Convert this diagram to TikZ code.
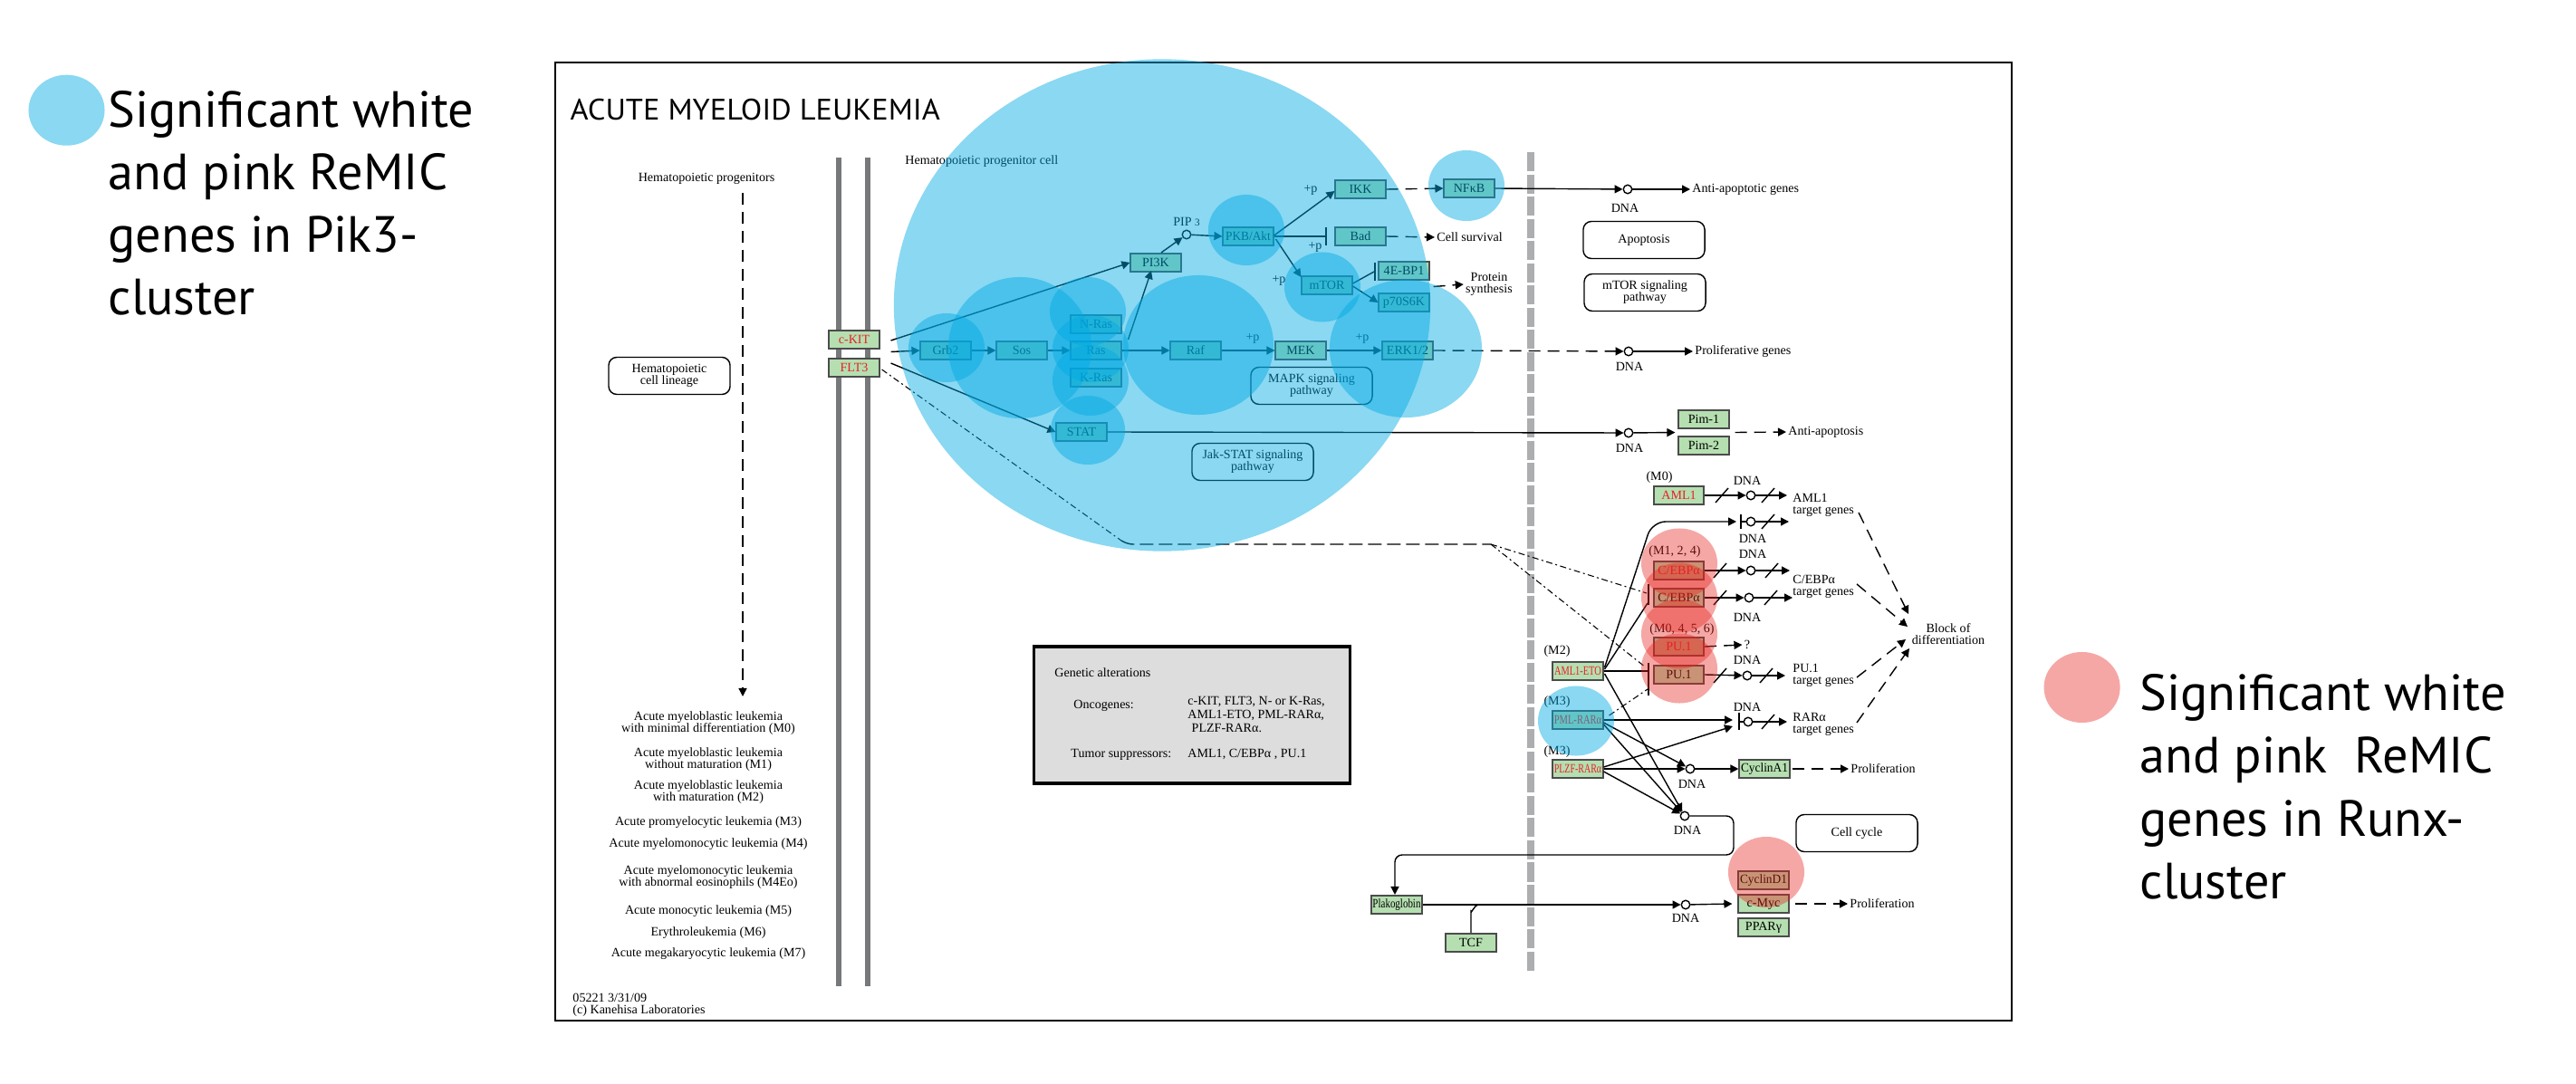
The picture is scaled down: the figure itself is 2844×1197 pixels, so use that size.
\documentclass[tikz,border=0pt]{standalone}
\usepackage{fontspec}
\usepackage{graphicx}
\setmainfont{Liberation Serif}
\newfontfamily\legfont{PT Sans}
\usetikzlibrary{arrows.meta,calc}
\definecolor{kgreen}{RGB}{181,223,176}
\definecolor{kred}{RGB}{232,32,40}
\definecolor{blueov}{RGB}{0,170,228}
\definecolor{pinkov}{RGB}{232,35,30}
\definecolor{membr}{RGB}{118,120,122}
\definecolor{nucl}{RGB}{172,174,176}
\definecolor{galt}{RGB}{221,221,221}
\newcommand\kf{\fontsize{4}{3.7}\selectfont}
\newcommand\sqz[2]{\scalebox{#1}[1]{#2}}
\newcommand\slsh[1]{\draw[ln] ($(#1)+(-7,8)$) -- ($(#1)+(7,-8)$);}
\newcommand\bov[4]{\fill[blueov,opacity=0.46] (#1,#2) ellipse [x radius=#3cm, y radius=#4cm];}
\newcommand\pov[4]{\fill[pinkov,opacity=0.4] (#1,#2) ellipse [x radius=#3cm, y radius=#4cm];}
\begin{document}
\begin{tikzpicture}[x=0.01cm,y=-0.01cm,
 kt/.style={inner sep=0.5pt, font=\kf},
 gene/.style={draw=black!70, fill=kgreen, line width=0.45pt, minimum width=0.555cm, minimum height=0.205cm, inner sep=0pt, font=\kf},
 rg/.style={gene, text=kred},
 pw/.style={draw, rounded corners=0.09cm, line width=0.4pt, minimum width=1.34cm, minimum height=0.41cm, align=center, inner sep=0pt, font=\kf},
 dnac/.style={circle, draw, fill=white, minimum size=0.095cm, inner sep=0pt, line width=0.4pt},
 ln/.style={line width=0.4pt},
 ar/.style={ln, -{Triangle[length=0.09cm,width=0.09cm]}},
 dar/.style={ar, dash pattern=on 0.13cm off 0.08cm},
 dl/.style={ln, dash pattern=on 0.15cm off 0.06cm},
 fd/.style={line width=0.3pt, dash pattern=on 0.07cm off 0.035cm on 0.02cm off 0.035cm},
 leg/.style={anchor=base west, inner sep=0pt, font=\legfont\fontsize{16}{19.6}\selectfont},
]
\useasboundingbox (0,0) rectangle (2844,1197);
\fill[white] (0,0) rectangle (2844,1197);

% frame and title
\draw[line width=0.6pt] (613,69) rectangle (2221,1127);
\node[anchor=base west, inner sep=0pt, font=\legfont\fontsize{9.3}{10}\selectfont] (title) at (629,133) {\sqz{1.05}{ACUTE MYELOID LEUKEMIA}};

% membranes
\draw[membr, line width=1.6pt] (926,174) -- (926,1089);
\draw[membr, line width=1.6pt] (958,174) -- (958,1089);
\draw[nucl, line width=2.3pt, dash pattern=on 0.21cm off 0.035cm] (1690,168) -- (1690,1075);

% left column
\node[kt] (hprog) at (780,197) {Hematopoietic progenitors};
\coordinate (hpa) at (820,213);
\coordinate (hpb) at (820,769);
\draw[dar] (hpa) -- (hpb);
\node[pw] (hcl) at (739,415) {Hematopoietic\\cell lineage};
\node[kt, align=center] (m0) at (782,798.5) {Acute myeloblastic leukemia\\with minimal differentiation (M0)};
\node[kt, align=center] (m1) at (782,838.5) {Acute myeloblastic leukemia\\without maturation (M1)};
\node[kt, align=center] (m2) at (782,874.5) {Acute myeloblastic leukemia\\with maturation (M2)};
\node[kt] (m3) at (782,908) {Acute promyelocytic leukemia (M3)};
\node[kt] (m4) at (782,932) {Acute myelomonocytic leukemia (M4)};
\node[kt, align=center] (m4e) at (782,968.5) {Acute myelomonocytic leukemia\\with abnormal eosinophils (M4Eo)};
\node[kt] (m5) at (782,1006) {Acute monocytic leukemia (M5)};
\node[kt] (m6) at (782,1030) {Erythroleukemia (M6)};
\node[kt] (m7) at (782,1053) {Acute megakaryocytic leukemia (M7)};
\node[kt, anchor=west, align=left] (foot) at (630,1109.5) {05221 3/31/09\\(c) Kanehisa Laboratories};

% genetic alterations
\node[draw, line width=0.9pt, fill=galt, minimum width=3.48cm, minimum height=1.51cm, inner sep=0pt] (galtbox) at (1316,789.5) {};
\node[kt, anchor=west] (ga) at (1162,743) {Genetic alterations};
\node[kt, anchor=west] (onc) at (1183,779) {Oncogenes:};
\node[anchor=west, align=left, inner sep=0.5pt, font=\fontsize{4}{2.9}\selectfont] (oncl) at (1309,789) {c-KIT, FLT3, N- or K-Ras,\\AML1-ETO, PML-RARα,\\\hspace{1.2pt}PLZF-RARα.};
\node[kt, anchor=west] (tsup) at (1180,833) {Tumor suppressors:};
\node[kt, anchor=west] (tsl) at (1309,833) {AML1, C/EBPα , PU.1};

% receptor and cytoplasm
\node[kt, anchor=west] (hpc) at (997,178) {Hematopoietic progenitor cell};
\node[rg] (ckit) at (943,375) {c-KIT};
\node[rg] (flt3) at (943,406) {FLT3};
\node[gene] (grb2) at (1044,387) {Grb2};
\node[gene] (sos) at (1128,387) {Sos};
\node[gene] (nras) at (1210,358) {N-Ras};
\node[gene] (ras) at (1210,387) {Ras};
\node[gene] (kras) at (1210,417) {K-Ras};
\node[gene] (raf) at (1320,387) {Raf};
\node[gene] (mek) at (1436,387) {MEK};
\node[gene] (erk) at (1554,387) {ERK1/2};
\node[gene] (pik) at (1276,290) {PI3K};
\node[gene] (pkb) at (1378,261) {\sqz{0.95}{PKB/Akt}};
\node[gene] (ikk) at (1502,209) {IKK};
\node[gene] (nfkb) at (1622,208) {NFκB};
\node[gene] (bad) at (1502,261) {Bad};
\node[gene] (mtor) at (1465,315) {mTOR};
\node[gene] (ebp) at (1550,299) {4E-BP1};
\node[gene] (p70) at (1550,334) {p70S6K};
\node[gene] (stat) at (1194,477) {STAT};
\node[dnac] (pip) at (1310,259) {};
\node[kt] (piplab) at (1310,245) {PIP {\fontsize{3.2}{3}\selectfont 3}};
\node[pw] (mapk) at (1448,426) {MAPK signaling\\pathway};
\node[pw] (jak) at (1383,510) {Jak-STAT signaling\\pathway};
\node[kt] (p1) at (1447,210) {+p};
\node[kt] (p2) at (1452,273) {+p};
\node[kt] (p3) at (1412,310) {+p};
\node[kt] (p4) at (1383,374) {+p};
\node[kt] (p5) at (1504,374) {+p};
\node[kt, anchor=west] (cs) at (1584,262) {Cell survival};
\node[kt, align=center] (ps) at (1644,314) {Protein\\synthesis};

\coordinate (kA) at ($(ckit.east)+(12,1)$);
\coordinate (kB) at ($(ckit.east)!0.5!(flt3.east)+(12,-2)$);
\coordinate (kC) at ($(flt3.east)+(12,-5)$);
\draw[ar] (kA) -- (pik.west);
\draw[ar] (kB) -- (grb2.west);
\draw[ar] (kC) -- (stat.west);
\draw[ar] (grb2) -- (sos);
\draw[ar] (sos) -- (ras);
\draw[ar] (ras) -- (raf);
\draw[ar] (raf) -- (mek);
\draw[ar] (mek) -- (erk);
\draw[ar] ($(ras.north east)+(7,-1)$) -- ($(pik.south)+(-5,-2)$);
\draw[ar] ($(pik.north)+(6,0)$) -- (pip);
\draw[ar] (pip) -- (pkb.west);
\draw[ar] ($(pkb.east)+(0,-1)$) -- ($(ikk.west)+(0,2)$);
\draw[ln] (pkb.east) -- (1464,261);
\draw[ln] (1464,251) -- (1464,271);
\draw[ar] ($(pkb.east)+(2,3)$) -- ($(mtor.north west)+(0,2)$);
\draw[ln] ($(mtor.east)+(0,-2)$) -- (1517,300);
\draw[ln] (1518,290) -- (1518,310);
\draw[ar] ($(mtor.east)+(0,1)$) -- (p70.west);
\draw[dar] (ikk.east) -- (nfkb.west);
\draw[dar] (bad.east) -- (cs.west);
\draw[dar] ($(ebp.south east)!0.5!(p70.north east)+(4,0)$) -- (ps.west);

% FLT3 dashed route
\draw[fd] ($(flt3.east)+(2,2)$) -- (1238,597);
\draw[dl, rounded corners=0.05cm] (1238,597) -- (1246,601) -- (1646,601);
\coordinate (fsplit) at (1646,601);

% nucleus: top rows
\node[dnac] (dn1) at (1797,209) {};
\node[kt] (dl1) at (1794,230) {DNA};
\node[kt, anchor=west] (apg) at (1866,209) {Anti-apoptotic genes};
\draw[ar] (nfkb.east) -- (dn1);
\draw[ar] (dn1) -- (apg.west);
\node[pw] (apop) at (1815,265) {Apoptosis};
\node[pw] (mtorp) at (1816,323) {mTOR signaling\\pathway};
\node[dnac] (dn2) at (1798,388) {};
\node[kt] (dl2) at (1799,405) {DNA};
\node[kt, anchor=west] (prg) at (1869,388) {Proliferative genes};
\draw[dar] (erk.east) -- (dn2);
\draw[ar] (dn2) -- (prg.west);
\node[dnac] (dn3) at (1798,478) {};
\node[kt] (dl3) at (1799,495) {DNA};
\node[gene] (pim1) at (1881,463) {Pim-1};
\node[gene] (pim2) at (1881,492) {Pim-2};
\node[kt, anchor=west] (aap) at (1972,477) {Anti-apoptosis};
\draw[ar] (stat.east) -- (dn3);
\draw[ar] (dn3) -- ($(pim1.south west)!0.5!(pim2.north west)+(-3,0)$);
\draw[dar] ($(pim1.south east)!0.5!(pim2.north east)+(6,0)$) -- (aap.west);

% Runx area
\node[kt] (lm0) at (1832,527) {(M0)};
\node[rg] (aml1) at (1853.5,547) {AML1};
\node[kt] (lm124) at (1849,609) {(M1, 2, 4)};
\node[rg] (cebpa) at (1853.5,630) {C/EBPα};
\node[gene] (cebpb) at (1853.5,660) {C/EBPα};
\node[kt] (lm456) at (1857,695) {(M0, 4, 5, 6)};
\node[rg] (pua) at (1853.5,714) {PU.1};
\node[gene] (pub) at (1853.5,745) {PU.1};
\node[kt] (lm2) at (1719,719) {(M2)};
\node[rg] (amleto) at (1742,741) {\sqz{0.74}{AML1-ETO}};
\node[kt] (lm3a) at (1719,775) {(M3)};
\node[rg] (pml) at (1742,795) {\sqz{0.75}{PML-RARα}};
\node[kt] (lm3b) at (1719,830) {(M3)};
\node[rg] (plzf) at (1742,849) {\sqz{0.71}{PLZF-RARα}};

\node[dnac] (dn4) at (1933,547) {};
\node[kt] (dl4) at (1929,531) {DNA};
\node[dnac] (dn5) at (1933,576) {};
\node[kt] (dl5) at (1935,595) {DNA};
\node[dnac] (dn6) at (1933,630) {};
\node[kt] (dl6) at (1935,612) {DNA};
\node[dnac] (dn7) at (1931,660) {};
\node[kt] (dl7) at (1929,682) {DNA};
\node[kt] (qm) at (1929,712) {?};
\node[dnac] (dn8) at (1929,746) {};
\node[kt] (dl8) at (1929,729) {DNA};
\node[dnac] (dn9) at (1930,797) {};
\node[kt] (dl9) at (1929,781) {DNA};

\node[kt, anchor=west, align=left] (tg1) at (1977,558) {AML1\\target genes};
\node[kt, anchor=west, align=left] (tg2) at (1977,648) {C/EBPα\\target genes};
\node[kt, anchor=west, align=left] (tg3) at (1977,746) {PU.1\\target genes};
\node[kt, anchor=west, align=left] (tg4) at (1977,800) {RARα\\target genes};
\node[kt, align=center] (bod) at (2151,700) {Block of\\differentiation};

\coordinate (t1) at (1973,547);
\coordinate (t2) at (1975,576);
\coordinate (t3) at (1976,630);
\coordinate (t4) at (1979,660);
\coordinate (t5) at (1971,746);
\coordinate (t6) at (1973,797);
\draw[ar] (aml1.east) -- (dn4); \draw[ar] (dn4) -- (t1);
\slsh{1901,547} \slsh{1952,547}
\draw[ar, rounded corners=0.15cm] ($(amleto.east)+(1,-4)$) -- (1824,576) -- (1917,576);
\draw[ln] (1922,568) -- (1922,584);
\draw[ln] (1922,576) -- (dn5); \draw[ar] (dn5) -- (t2);
\slsh{1952,576}
\draw[ar] (cebpa.east) -- (dn6); \draw[ar] (dn6) -- (t3);
\slsh{1899,630} \slsh{1956,630}
\draw[ar] (cebpb.east) -- (dn7); \draw[ar] (dn7) -- (t4);
\slsh{1899,660} \slsh{1955,660}
\draw[dar] (pua.east) -- (qm.west);
\draw[ar] (pub.east) -- (dn8); \draw[ar] (dn8) -- (t5);
\slsh{1899,746} \slsh{1950,746}
\draw[ln] (1920,787) -- (1920,806);
\draw[ar] (pml.east) -- (1913,795);
\draw[ar] ($(plzf.east)+(0,-2)$) -- (1913,802);
\draw[ln] (1920,797) -- (dn9); \draw[ar] (dn9) -- (t6);
\slsh{1952,797}

% inhibition bars on C/EBPa and PU.1
\draw[ln] (1820,645) -- (1820,668);
\draw[ln] (1820,732) -- (1820,768);
\draw[fd] (fsplit) -- (1818,655);
\draw[fd] (fsplit) -- (1817,737);
\draw[ln] ($(amleto.east)+(1,-2)$) -- (1819,666);
\draw[ln] (amleto.east) -- (1819,741);
\draw[fd] ($(pml.east)+(6,-5)$) -- (1819,761);

% block of differentiation
\draw[dar] (2052,566) -- (2107,678);
\draw[dar] (2050,645) -- (2106,692);
\draw[dar] (2050,748) -- (2104,706);
\draw[dar] (2050,798) -- (2108,716);

% CyclinA1 row
\node[dnac] (dn10) at (1866,849) {};
\node[kt] (dl10) at (1868,866) {DNA};
\node[gene] (cyca) at (1948,849) {\sqz{0.95}{CyclinA1}};
\node[kt, anchor=west] (prl1) at (2041,849) {Proliferation};
\draw[ar] (plzf.east) -- (dn10);
\draw[ar] ($(pml.east)+(0,3)$) -- (dn10);
\draw[ar] (dn10) -- (cyca.west);
\draw[dar] ($(cyca.east)+(2,0)$) -- (prl1.west);

% lower DNA and loop
\node[dnac] (dn11) at (1860,901) {};
\node[kt] (dl11) at (1863,917) {DNA};
\draw[ar] ($(amleto.east)+(1,3)$) -- (dn11);
\draw[ar] ($(pml.east)+(0,5)$) -- (dn11);
\draw[ar] ($(plzf.east)+(0,3)$) -- (dn11);
\node[pw] (cellc) at (2050,920) {Cell cycle};
\node[gene] (plak) at (1542,999) {\sqz{0.78}{Plakoglobin}};
\node[gene] (tcf) at (1624,1041) {TCF};
\draw[ar, rounded corners=0.08cm] (dn11) -- (1914,901) -- (1914,944) -- (1540,944) -- (plak.north -| 1540,0);
\node[dnac] (dn12) at (1861,999) {};
\node[kt] (dl12) at (1861,1014) {DNA};
\draw[ar] (plak.east) -- (dn12);
\draw[ln] (tcf.north) -- (1624,1006) to[out=-90,in=180] (1632,999);
\node[gene] (cycd) at (1947,972) {\sqz{0.95}{CyclinD1}};
\node[gene] (myc) at (1947,998) {c-Myc};
\node[gene] (ppar) at (1947,1024) {PPARγ};
\node[kt, anchor=west] (prl2) at (2040,998) {Proliferation};
\draw[ar] (dn12) -- ($(myc.west)+(-6,0)$);
\draw[dar] ($(myc.east)+(6,0)$) -- (prl2.west);

% overlays: Pik3 cluster (blue)
\fill[blueov,opacity=0.46] (1283,337) ellipse [x radius=2.96cm, y radius=2.715cm];
\bov{1045}{384}{0.42}{0.38}
\bov{1126}{384}{0.79}{0.78}
\bov{1201}{344}{0.42}{0.38}
\bov{1204}{385}{0.42}{0.37}
\bov{1204}{420}{0.42}{0.39}
\bov{1323}{381}{0.83}{0.77}
\bov{1201}{475}{0.41}{0.38}
\bov{1376}{254}{0.42}{0.39}
\bov{1460}{317}{0.42}{0.385}
\bov{1552}{385}{0.84}{0.76}
\bov{1619}{205}{0.42}{0.39}
\bov{1740}{796}{0.42}{0.385}
% overlays: Runx cluster (pink)
\pov{1854}{622}{0.42}{0.385}
\pov{1854}{660}{0.42}{0.385}
\pov{1854}{700}{0.42}{0.385}
\pov{1854}{738}{0.42}{0.385}
\pov{1950}{963}{0.42}{0.39}

% legends
\fill[blueov,opacity=0.46] (73.5,121.7) ellipse [x radius=0.42cm, y radius=0.39cm];
\node[leg] (la1) at (119,140.7) {Significant white};
\node[leg] (la2) at (119,209.5) {and pink ReMIC};
\node[leg] (la3) at (119,278.5) {genes in Pik3-};
\node[leg] (la4) at (119,347.5) {cluster};
\fill[pinkov,opacity=0.4] (2298.6,759) ellipse [x radius=0.42cm, y radius=0.39cm];
\node[leg] (lb1) at (2362,784) {Significant white};
\node[leg] (lb2) at (2362,853.5) {and pink\ \ ReMIC};
\node[leg] (lb3) at (2362,923) {genes in Runx-};
\node[leg] (lb4) at (2362,992) {cluster};
\end{tikzpicture}
\end{document}
